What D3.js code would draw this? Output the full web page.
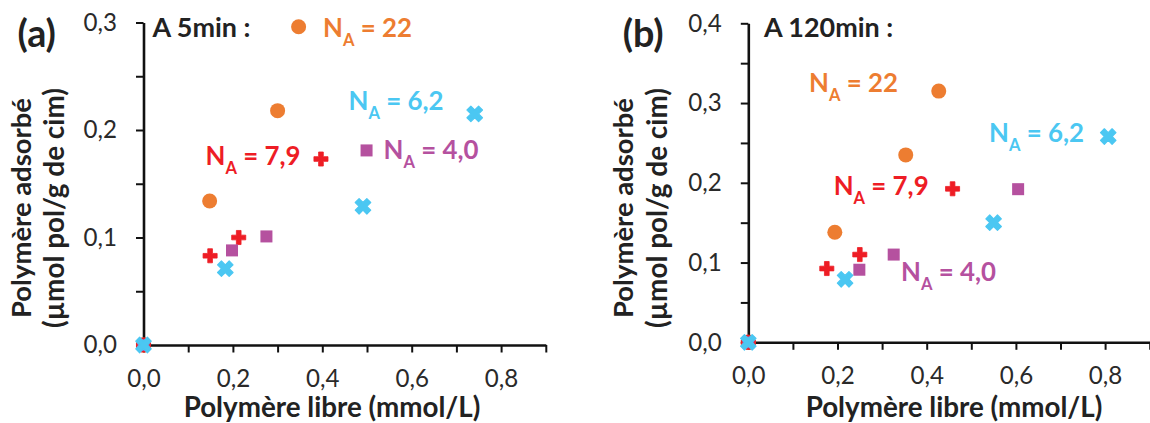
<!DOCTYPE html>
<html><head><meta charset="utf-8">
<script src="https://cdn.jsdelivr.net/npm/d3@7"></script>
<style>
body{margin:0;background:#fff;}
svg{display:block;font-family:Lato,"Open Sans",sans-serif;}
</style></head>
<body><svg id="c" width="1150" height="423"></svg>
<script>
// ---------- data ----------
const seriesNames = ["NA = 22", "NA = 7,9", "NA = 4,0", "NA = 6,2"];
// Panel (a) : 5 min
const a_x22  = [0, 0.148, 0.300, 0.347];
const a_y22  = [0, 0.134, 0.218, 0.296];
const a_x79  = [0, 0.149, 0.213, 0.397];
const a_y79  = [0, 0.083, 0.100, 0.173];
const a_x40  = [0, 0.198, 0.275, 0.499];
const a_y40  = [0, 0.088, 0.101, 0.181];
const a_x62  = [0, 0.183, 0.491, 0.741];
const a_y62  = [0, 0.071, 0.129, 0.215];
// Panel (b) : 120 min
const b_x22  = [0, 0.194, 0.353, 0.427];
const b_y22  = [0, 0.138, 0.235, 0.315];
const b_x79  = [0, 0.176, 0.250, 0.458];
const b_y79  = [0, 0.0925, 0.110, 0.1925];
const b_x40  = [0, 0.249, 0.326, 0.605];
const b_y40  = [0, 0.091, 0.110, 0.192];
const b_x62  = [0, 0.217, 0.550, 0.807];
const b_y62  = [0, 0.079, 0.150, 0.258];
const xTickValues = [0,0.1,0.2,0.3,0.4,0.5,0.6,0.7,0.8,0.9];
const xTickLabels = ["0,0","","0,2","","0,4","","0,6","","0,8",""];
const aYTickValues = [0,0.05,0.1,0.15,0.2,0.25,0.3];
const aYTickLabels = ["0,0","","0,1","","0,2","","0,3"];
const bYTickValues = [0,0.05,0.1,0.15,0.2,0.25,0.3,0.35,0.4];
const bYTickLabels = ["0,0","","0,1","","0,2","","0,3","","0,4"];
const xTitle = "Polymère libre (mmol/L)";
const yTitle1 = "Polymère adsorbé";
const yTitle2 = "(µmol pol/g de cim)";

// ---------- styles ----------
const colors = ["#ED7D31", "#EE1D25", "#B5519F", "#4BC7F2"];
const shapes = ["circle", "plus", "square", "x"];
const svg = d3.select("#c");
const zip = (xs, ys) => xs.map((x, i) => [x, ys[i]]);

// size a text so that it spans the target width
function fitSize(str, weight, target) {
  const t = svg.append("text").attr("font-size", 20).attr("font-weight", weight).text(str);
  const w = t.node().getComputedTextLength();
  t.remove();
  return 20 * target / w;
}
const tickSize = fitSize("0,0", "normal", 33.5);
const xTitleSize = fitSize(xTitle, "bold", 297);
const yTitle1Size = fitSize(yTitle1, "bold", 220);
const yTitle2Size = fitSize(yTitle2, "bold", 240);
const letterSize = fitSize("(a)", "bold", 38.5);
const timeSize = (fitSize("A 5min :", "bold", 99) + fitSize("A 120min :", "bold", 128)) / 2;

function drawLabel(g, si, lx, ly, size) {
  const name = seriesNames[si];
  const t = g.append("text").attr("x", lx).attr("y", ly).attr("font-weight", "bold")
    .attr("font-size", size).attr("fill", colors[si]);
  t.append("tspan").text(name[0]);
  t.append("tspan").attr("font-size", size * 0.64).attr("dy", size * 0.33).text(name[1]);
  t.append("tspan").attr("dy", -size * 0.33).text(name.slice(2));
  return t;
}
const probe = drawLabel(svg, 1, 0, 0, 20);
const labelSize = 20 * 95 / probe.node().getBBox().width;
probe.remove();

function drawPanel(cfg) {
  const x = d3.scaleLinear().domain([0, 0.9]).range([cfg.x0, cfg.x1]);
  const y = d3.scaleLinear().domain(cfg.yDomain).range([cfg.y0, cfg.y1]);
  const g = svg.append("g");

  const yAxis = d3.axisLeft(y).tickValues(cfg.yTicks)
    .tickFormat((d, i) => cfg.yLabels[i]).tickSize(7.5).tickSizeOuter(0).tickPadding(19);
  const xAxis = d3.axisBottom(x).tickValues(xTickValues)
    .tickFormat((d, i) => xTickLabels[i]).tickSize(7.5).tickSizeOuter(0);

  const ya = g.append("g").attr("transform", `translate(${cfg.x0},0)`).call(yAxis);
  const xa = g.append("g").attr("transform", `translate(0,${cfg.y0})`).call(xAxis);
  [ya, xa].forEach(a => {
    a.selectAll("path.domain").attr("stroke", "#111").attr("stroke-width", 2.6);
    a.selectAll(".tick line").attr("stroke", "#111").attr("stroke-width", 2);
    a.selectAll(".tick text").attr("font-size", tickSize).attr("fill", "#2a2a2a")
      .attr("font-family", "Lato, sans-serif");
  });
  xa.selectAll(".tick text").attr("y", 42).attr("dy", 0);

  // titles
  g.append("text").attr("x", cfg.xTitleX).attr("y", 417)
    .attr("text-anchor", "middle").attr("font-weight", "bold").attr("font-size", xTitleSize)
    .attr("fill", "#222").text(xTitle);
  const yc = 208;
  g.append("text").attr("transform", `translate(${cfg.yt1},${yc}) rotate(-90)`)
    .attr("text-anchor", "middle").attr("font-weight", "bold").attr("font-size", yTitle1Size)
    .attr("fill", "#222").text(yTitle1);
  g.append("text").attr("transform", `translate(${cfg.yt2},${yc}) rotate(-90)`)
    .attr("text-anchor", "middle").attr("font-weight", "bold").attr("font-size", yTitle2Size)
    .attr("fill", "#222").text(yTitle2);

  g.append("text").attr("x", cfg.letterX).attr("y", 46.5).attr("font-weight", "bold")
    .attr("font-size", letterSize).attr("fill", "#222").text(cfg.letter);
  g.append("text").attr("x", cfg.timeX).attr("y", 37.3).attr("font-weight", "bold")
    .attr("font-size", timeSize).attr("fill", "#222").text(cfg.time);

  // marks
  const crossPath = d3.symbol().type(d3.symbolCross).size(110)();
  const xPath = d3.symbol().type(d3.symbolCross).size(150)();
  cfg.series.forEach((pts, si) => {
    const col = colors[si];
    const sg = g.append("g");
    pts.forEach(([vx, vy]) => {
      const px = x(vx), py = y(vy);
      const s = shapes[si];
      if (s === "circle") sg.append("circle").attr("cx", px).attr("cy", py).attr("r", 7.5).attr("fill", col);
      else if (s === "square") sg.append("rect").attr("x", px - 6).attr("y", py - 6)
        .attr("width", 12).attr("height", 12).attr("fill", col);
      else if (s === "plus") sg.append("path").attr("d", crossPath)
        .attr("transform", `translate(${px},${py})`).attr("fill", col)
        .attr("stroke", col).attr("stroke-width", 0.8).attr("stroke-linejoin", "round");
      else sg.append("path").attr("d", xPath)
        .attr("transform", `translate(${px},${py}) rotate(45)`).attr("fill", col)
        .attr("stroke", col).attr("stroke-width", 1.2).attr("stroke-linejoin", "round");
    });
  });

  cfg.labels.forEach(([si, lx, ly]) => drawLabel(g, si, lx, ly, labelSize));
}

drawPanel({
  x0: 143.5, x1: 545.8, y0: 345, y1: 22.5, yDomain: [0, 0.3],
  yTicks: aYTickValues, yLabels: aYTickLabels,
  xTitleX: 332, yt1: 31, yt2: 64, letter: "(a)", letterX: 17.5, time: "A 5min :", timeX: 152.5,
  series: [zip(a_x22, a_y22), zip(a_x79, a_y79), zip(a_x40, a_y40), zip(a_x62, a_y62)],
  labels: [[0, 323, 37], [3, 348.6, 110], [1, 205.5, 165], [2, 383.5, 159]]
});
drawPanel({
  x0: 748.3, x1: 1149.7, y0: 342.3, y1: 23.3, yDomain: [0, 0.4],
  yTicks: bYTickValues, yLabels: bYTickLabels,
  xTitleX: 954, yt1: 633, yt2: 667, letter: "(b)", letterX: 622.7, time: "A 120min :", timeX: 764,
  series: [zip(b_x22, b_y22), zip(b_x79, b_y79), zip(b_x40, b_y40), zip(b_x62, b_y62)],
  labels: [[0, 809, 92], [3, 989, 142], [1, 833.7, 195], [2, 901, 281]]
});
</script></body></html>
